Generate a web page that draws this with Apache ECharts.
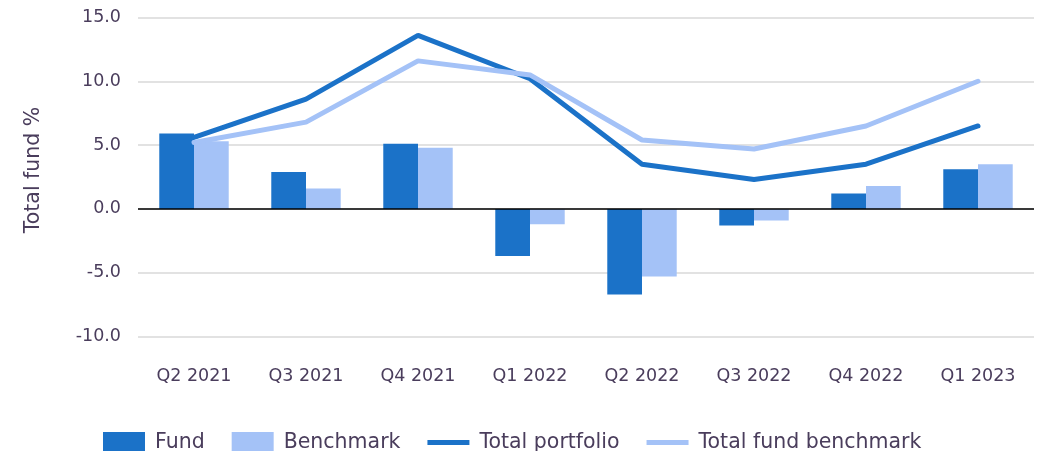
<!DOCTYPE html>
<html>
<head>
<meta charset="utf-8">
<script src="https://cdn.jsdelivr.net/npm/echarts@6/dist/echarts.min.js"></script>
<style>
  html, body { margin: 0; padding: 0; background: #fff; }
  #chart { width: 1052px; height: 451px; }
</style>
</head>
<body>
<div id="chart"></div>
<script>
// quarters along the x axis
const quarters = ['Q2 2021', 'Q3 2021', 'Q4 2021', 'Q1 2022', 'Q2 2022', 'Q3 2022', 'Q4 2022', 'Q1 2023'];
// bars
const fund = [5.9, 2.9, 5.1, -3.7, -6.7, -1.3, 1.2, 3.1];
const benchmark = [5.3, 1.6, 4.8, -1.2, -5.3, -0.9, 1.8, 3.5];
// lines
const totalPortfolio = [5.6, 8.6, 13.6, 10.2, 3.5, 2.3, 3.5, 6.5];
const totalFundBenchmark = [5.2, 6.8, 11.6, 10.5, 5.4, 4.7, 6.5, 10.0];

const dark = '#1b72c8';
const light = '#a4c2f7';
const txt = '#4a3d5c';
const font = 'DejaVu Sans';
const lineIcon = 'path://M0,0H42V5H0Z';

let chart = echarts.init(document.getElementById('chart'));
chart.setOption({
  animation: false,
  textStyle: { fontFamily: font, color: txt },
  grid: { left: 138, right: 18, top: 17.5, height: 319 },
  legend: {
    left: 98, top: 427,
    itemGap: 27,
    textStyle: { fontSize: 20.5, color: txt, fontFamily: font, padding: [0, 0, 0, 5] },
    data: [
      { name: 'Fund', icon: 'rect' },
      { name: 'Benchmark', icon: 'rect' },
      { name: 'Total portfolio', icon: lineIcon },
      { name: 'Total fund benchmark', icon: lineIcon }
    ],
    itemWidth: 42, itemHeight: 21
  },
  xAxis: {
    type: 'category',
    data: quarters,
    axisLine: { show: false, onZero: false },
    axisTick: { show: false },
    axisLabel: { fontSize: 17.5, color: txt, margin: 31 }
  },
  yAxis: {
    type: 'value',
    min: -10, max: 15, interval: 5,
    name: 'Total fund %',
    nameLocation: 'middle',
    nameGap: 94,
    nameTextStyle: { fontSize: 20.5, color: txt, padding: [0, 0, 0, 14] },
    axisLabel: { fontSize: 17.5, color: txt, margin: 17, formatter: v => v.toFixed(1) },
    splitLine: { lineStyle: { color: '#d9d9d9', width: 1.5 } }
  },
  series: [
    {
      name: 'Fund', type: 'bar', data: fund,
      itemStyle: { color: dark },
      barGap: '0%', barCategoryGap: '38%',
      markLine: {
        silent: true, symbol: 'none', label: { show: false },
        lineStyle: { color: '#000', width: 1.5, type: 'solid' },
        data: [{ yAxis: 0 }]
      }
    },
    {
      name: 'Benchmark', type: 'bar', data: benchmark,
      itemStyle: { color: light }
    },
    {
      name: 'Total portfolio', type: 'line', data: totalPortfolio,
      symbol: 'none',
      itemStyle: { color: dark },
      lineStyle: { color: dark, width: 5, cap: 'round' }
    },
    {
      name: 'Total fund benchmark', type: 'line', data: totalFundBenchmark,
      symbol: 'none',
      itemStyle: { color: light },
      lineStyle: { color: light, width: 5, cap: 'round' }
    }
  ]
});
</script>
</body>
</html>
